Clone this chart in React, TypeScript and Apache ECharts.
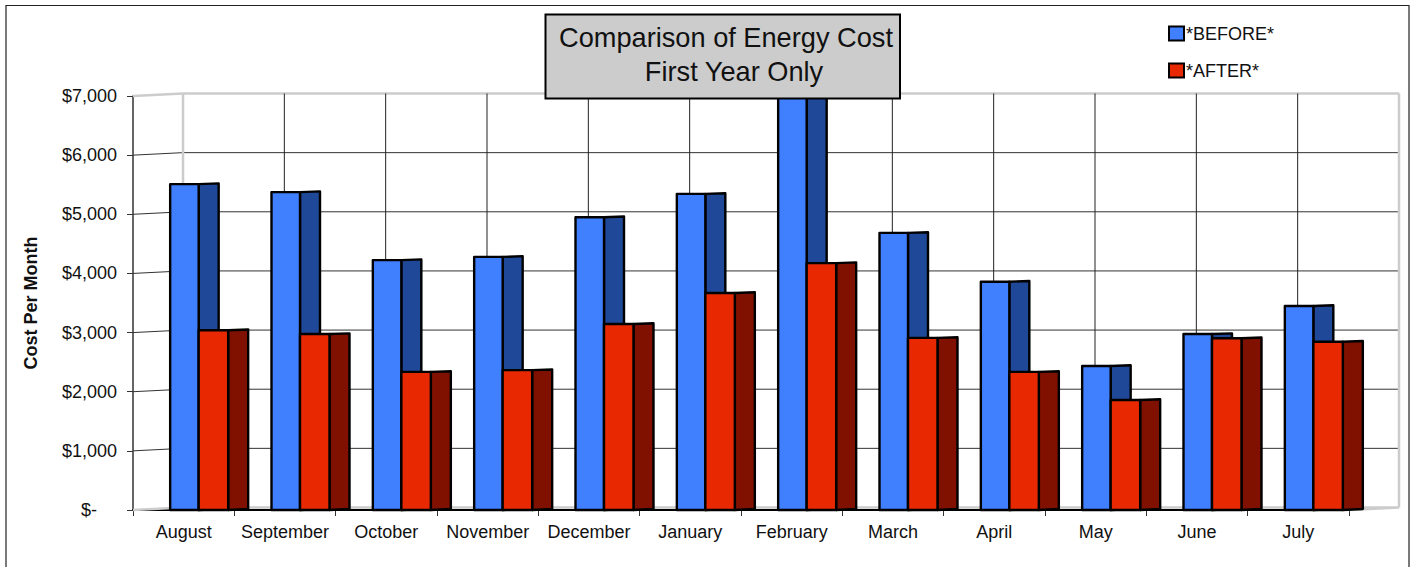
import React, { useEffect, useRef } from "react";
import * as echarts from "echarts";

const categories = ["August","September","October","November","December","January","February","March","April","May","June","July"];
const beforeValues = [5510,5375,4225,4280,4950,5345,7200,4685,3860,2435,2975,3450];
const afterValues = [3040,2975,2335,2365,3145,3670,4175,2910,2335,1860,2905,2845];
const yTicks = [0,1000,2000,3000,4000,5000,6000,7000];
const legendNames = ["*BEFORE*","*AFTER*"];
const axisName = "Cost Per Month";
const titleLines = ["Comparison of Energy Cost","First Year Only"];

const FONT = "'Liberation Sans', Arial, sans-serif";
const TEXT = "#111111";
const DX = 50, DY = 2.5;

function barRender(c0: number, c1: number, front: string, side: string) {
  return (_p: any, api: any) => {
    const top = api.coord([api.value(0), api.value(1)]);
    const base = api.coord([api.value(0), 0]);
    const l = top[0] + c0, r = top[0] + c1, t = top[1], b = base[1];
    const lineStyle = { stroke: "#000", lineWidth: 2.4, lineJoin: "round" };
    return {
      type: "group",
      children: [
        { type: "polygon", shape: { points: [[r, t], [r + 20, t - 0.7], [r + 20, b - 1], [r, b]] }, style: { fill: side, ...lineStyle } },
        { type: "rect", shape: { x: l, y: t, width: r - l, height: b - t }, style: { fill: front, ...lineStyle } },
      ],
    };
  };
}

function gridRender(p: any, api: any) {
  const cs = p.coordSys;
  const v = api.value(0);
  const y = api.coord([0, v])[1];
  const edge = v === 0 || v === 7000;
  return {
    type: "polyline",
    shape: { points: [[cs.x, y], [cs.x + DX, y - DY], [cs.x + cs.width + DX, y - DY], ...(v === 0 ? [[cs.x + cs.width, y]] : [])] },
    style: { fill: "none", stroke: edge ? "#cccccc" : "#333333", lineWidth: edge ? 2.5 : 1 },
  };
}

function wallRender(p: any, api: any) {
  const cs = p.coordSys;
  const i = api.value(0);
  const band = cs.width / categories.length;
  const x = cs.x + band * i + DX;
  const yT = cs.y - DY, yB = cs.y + cs.height - DY;
  const children: any[] = [
    { type: "line", shape: { x1: x, y1: yT, x2: x, y2: yB }, style: { stroke: i === 0 ? "#cccccc" : "#222222", lineWidth: i === 0 ? 2.5 : 1 } },
  ];
  if (i === categories.length - 1) {
    const xr = x + band;
    children.push({ type: "line", shape: { x1: xr, y1: yT, x2: xr, y2: yB }, style: { stroke: "#cccccc", lineWidth: 2.5 } });
  }
  return { type: "group", children };
}

export default function App() {
  const ref = useRef<HTMLDivElement>(null);
  useEffect(() => {
    const chart = echarts.init(ref.current!, undefined, { renderer: "svg" });
    chart.setOption({
      animation: false,
      backgroundColor: "#ffffff",
      textStyle: { fontFamily: FONT },
      grid: { left: 133, top: 96, width: 1216, height: 414, containLabel: false },
      legend: {
        data: legendNames.map((name) => ({ name, icon: "rect" })),
        orient: "vertical",
        left: 1163,
        top: 19.5,
        itemWidth: 15,
        itemHeight: 14,
        itemGap: 19,
        selectedMode: false,
        textStyle: { fontFamily: FONT, fontSize: 18, color: TEXT, padding: [0, 0, 0, -3] },
      },
      xAxis: {
        type: "category",
        data: categories,
        boundaryGap: true,
        axisLine: { show: true, lineStyle: { color: "#000", width: 2 } },
        axisTick: { show: true, length: 6, alignWithLabel: false, lineStyle: { color: "#333", width: 1 } },
        axisLabel: { interval: 0, color: TEXT, fontFamily: FONT, fontSize: 18, margin: 13 },
        splitLine: { show: false },
      },
      yAxis: {
        type: "value",
        min: 0,
        max: 7000,
        interval: 1000,
        name: axisName,
        nameLocation: "middle",
        nameGap: 93,
        nameTextStyle: { fontFamily: FONT, fontSize: 18, fontWeight: "bold", color: TEXT },
        axisLine: { show: true, lineStyle: { color: "#333", width: 1.5 } },
        axisTick: { show: true, length: 6, lineStyle: { color: "#333", width: 1 } },
        splitLine: { show: false },
        axisLabel: {
          color: TEXT,
          fontFamily: FONT,
          fontSize: 18,
          margin: 16,
          formatter: (v: number) => (v === 0 ? "{d|$-}" : "$" + v.toLocaleString("en-US")),
          rich: { d: { fontFamily: FONT, fontSize: 18, color: TEXT, padding: [0, 20, 0, 0] } },
        },
      },
      graphic: {
        elements: [
          { type: "polyline", z: 0, silent: true, shape: { points: [[6, 600], [6, 5.5], [1409, 5.5], [1409, 600]] }, style: { fill: "none", stroke: "#222", lineWidth: 1.2 } },
          { type: "rect", z: 100, silent: true, shape: { x: 545.5, y: 14.5, width: 354.5, height: 84 }, style: { fill: "#cccccc", stroke: "#000", lineWidth: 2 } },
          { type: "text", z: 101, silent: true, style: { x: 726, y: 37.5, text: titleLines[0], align: "center", verticalAlign: "middle", font: `27.2px ${FONT}`, fill: TEXT } },
          { type: "text", z: 101, silent: true, style: { x: 734, y: 71.5, text: titleLines[1], align: "center", verticalAlign: "middle", font: `27.2px ${FONT}`, fill: TEXT } },
        ],
      },
      series: [
        { type: "custom", name: "grid", silent: true, z: 1, data: yTicks.map((v) => [v]), encode: { y: 0 }, renderItem: gridRender },
        { type: "custom", name: "wall", silent: true, z: 1, data: categories.map((_, i) => [i]), encode: { x: 0 }, renderItem: wallRender },
        {
          type: "custom", name: legendNames[0], z: 3,
          itemStyle: { color: "#4080ff", borderColor: "#000", borderWidth: 1 },
          data: beforeValues.map((v, i) => [i, v]), encode: { x: 0, y: 1 },
          renderItem: barRender(-13.5, 15, "#4080ff", "#204898"),
        },
        {
          type: "custom", name: legendNames[1], z: 4,
          itemStyle: { color: "#e82800", borderColor: "#000", borderWidth: 1 },
          data: afterValues.map((v, i) => [i, v]), encode: { x: 0, y: 1 },
          renderItem: barRender(15, 44.5, "#e82800", "#801000"),
        },
      ],
    });
    return () => chart.dispose();
  }, []);
  return <div ref={ref} style={{ position: "fixed", left: 0, top: 0, width: 1416, height: 567 }} />;
}
